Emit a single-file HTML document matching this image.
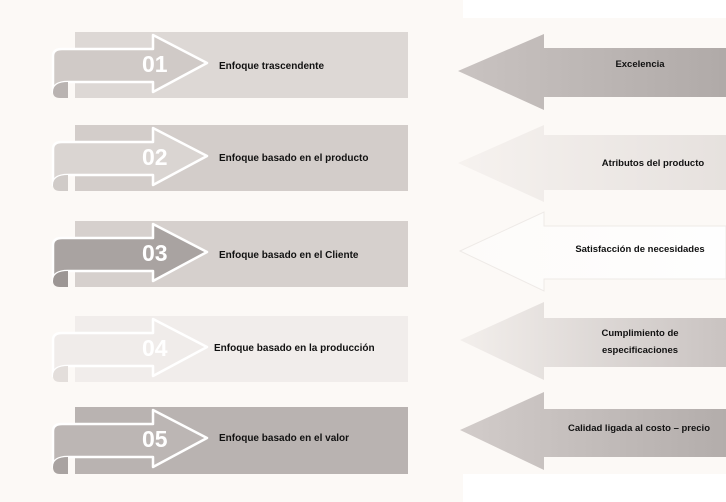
<!DOCTYPE html>
<html><head><meta charset="utf-8"><style>
html,body{margin:0;padding:0;background:#fcf9f6;}
svg{display:block;}
text{font-family:"Liberation Sans",sans-serif;font-weight:bold;}
</style></head><body>
<svg width="726" height="502" viewBox="0 0 726 502" xmlns="http://www.w3.org/2000/svg">
<defs>
<linearGradient id="g1" x1="0" x2="1"><stop offset="0" stop-color="#c9c3c1"/><stop offset="1" stop-color="#b0aaa8"/></linearGradient>
<linearGradient id="g2" x1="0" x2="1"><stop offset="0" stop-color="#f6f2ef"/><stop offset="1" stop-color="#e6e1de"/></linearGradient>
<linearGradient id="g3" x1="0" x2="1"><stop offset="0" stop-color="#fdfbf9"/><stop offset="1" stop-color="#fefefe"/></linearGradient>
<linearGradient id="g4" x1="0" x2="1"><stop offset="0" stop-color="#f3efec"/><stop offset="1" stop-color="#c9c3c1"/></linearGradient>
<linearGradient id="g5" x1="0" x2="1"><stop offset="0" stop-color="#d2ccca"/><stop offset="1" stop-color="#b3adab"/></linearGradient>
</defs>
<rect x="463" y="0" width="263" height="18" fill="#ffffff"/>
<rect x="463" y="474" width="263" height="28" fill="#ffffff"/>

<g transform="translate(0,32)">
  <rect x="75" y="0" width="333" height="66" fill="#ddd8d5"/>
  <path d="M53 24 Q53 17 62 17 L153 17 L153 3 L207 31 L153 60 L153 50 L68 50 Q53 50 53 60 Z" fill="#d0cac7" stroke="#fff" stroke-width="2.5" stroke-linejoin="round"/>
  <path d="M53 60 Q53 50 68 50 L68 66 L60 66 Q53 66 53 60 Z" fill="#b9b3b1"/>
  <text x="142" y="40" font-size="23" fill="#fff">01</text>
  <text x="219" y="37" font-size="10" fill="#111">Enfoque trascendente</text>
</g>
<g transform="translate(0,125)">
  <rect x="75" y="0" width="333" height="66" fill="#d3cdca"/>
  <path d="M53 24 Q53 17 62 17 L153 17 L153 3 L207 31 L153 60 L153 50 L68 50 Q53 50 53 60 Z" fill="#dad5d2" stroke="#fff" stroke-width="2.5" stroke-linejoin="round"/>
  <path d="M53 60 Q53 50 68 50 L68 66 L60 66 Q53 66 53 60 Z" fill="#d0cbc8"/>
  <text x="142" y="40" font-size="23" fill="#fff">02</text>
  <text x="219" y="36" font-size="10" fill="#111">Enfoque basado  en el producto</text>
</g>
<g transform="translate(0,221)">
  <rect x="75" y="0" width="333" height="66" fill="#d6d0cd"/>
  <path d="M53 24 Q53 17 62 17 L153 17 L153 3 L207 31 L153 60 L153 50 L68 50 Q53 50 53 60 Z" fill="#a9a3a1" stroke="#fff" stroke-width="2.5" stroke-linejoin="round"/>
  <path d="M53 60 Q53 50 68 50 L68 66 L60 66 Q53 66 53 60 Z" fill="#9c9694"/>
  <text x="142" y="40" font-size="23" fill="#fff">03</text>
  <text x="219" y="37" font-size="10" fill="#111">Enfoque basado  en el Cliente</text>
</g>
<g transform="translate(0,316)">
  <rect x="75" y="0" width="333" height="66" fill="#f1edeb"/>
  <path d="M53 24 Q53 17 62 17 L153 17 L153 3 L207 31 L153 60 L153 50 L68 50 Q53 50 53 60 Z" fill="#f0ecea" stroke="#fff" stroke-width="2.5" stroke-linejoin="round"/>
  <path d="M53 60 Q53 50 68 50 L68 66 L60 66 Q53 66 53 60 Z" fill="#e3dedb"/>
  <text x="142" y="40" font-size="23" fill="#fff">04</text>
  <text x="214" y="35" font-size="10" fill="#111">Enfoque basado  en la producción</text>
</g>
<g transform="translate(0,407)">
  <rect x="75" y="0" width="333" height="67" fill="#b9b3b1"/>
  <path d="M53 24 Q53 17 62 17 L153 17 L153 3 L207 31 L153 60 L153 50 L68 50 Q53 50 53 60 Z" fill="#bcb6b4" stroke="#fff" stroke-width="2.5" stroke-linejoin="round"/>
  <path d="M53 60 Q53 50 68 50 L68 67 L60 67 Q53 67 53 60 Z" fill="#a9a3a1"/>
  <text x="142" y="40" font-size="23" fill="#fff">05</text>
  <text x="219" y="34" font-size="10" fill="#111">Enfoque basado  en el valor</text>
</g>

<path d="M458 71 L544 34 L544 48 L726 48 L726 97 L544 97 L544 110 Z" fill="url(#g1)"/>
<text x="640" y="67" font-size="9.5" fill="#111" text-anchor="middle">Excelencia</text>

<path d="M458 163 L544 125 L544 135 L726 135 L726 190 L544 190 L544 202 Z" fill="url(#g2)"/>
<text x="653" y="166" font-size="9.5" fill="#111" text-anchor="middle">Atributos del producto</text>

<path d="M460 251 L544 212 L544 226 L726 226 L726 279 L544 279 L544 291 Z" fill="url(#g3)" stroke="#eeeae7" stroke-width="1"/>
<text x="640" y="252" font-size="9.5" fill="#111" text-anchor="middle">Satisfacción  de necesidades</text>

<path d="M460 340 L544 302 L544 318 L726 318 L726 367 L544 367 L544 380 Z" fill="url(#g4)"/>
<text x="640" y="336" font-size="9.5" fill="#111" text-anchor="middle">Cumplimiento de</text>
<text x="640" y="353" font-size="9.5" fill="#111" text-anchor="middle">especificaciones</text>

<path d="M460 430 L544 392 L544 409 L726 409 L726 457 L544 457 L544 470 Z" fill="url(#g5)"/>
<text x="639" y="431" font-size="9.5" fill="#111" text-anchor="middle">Calidad  ligada  al costo – precio</text>
</svg>
</body></html>
